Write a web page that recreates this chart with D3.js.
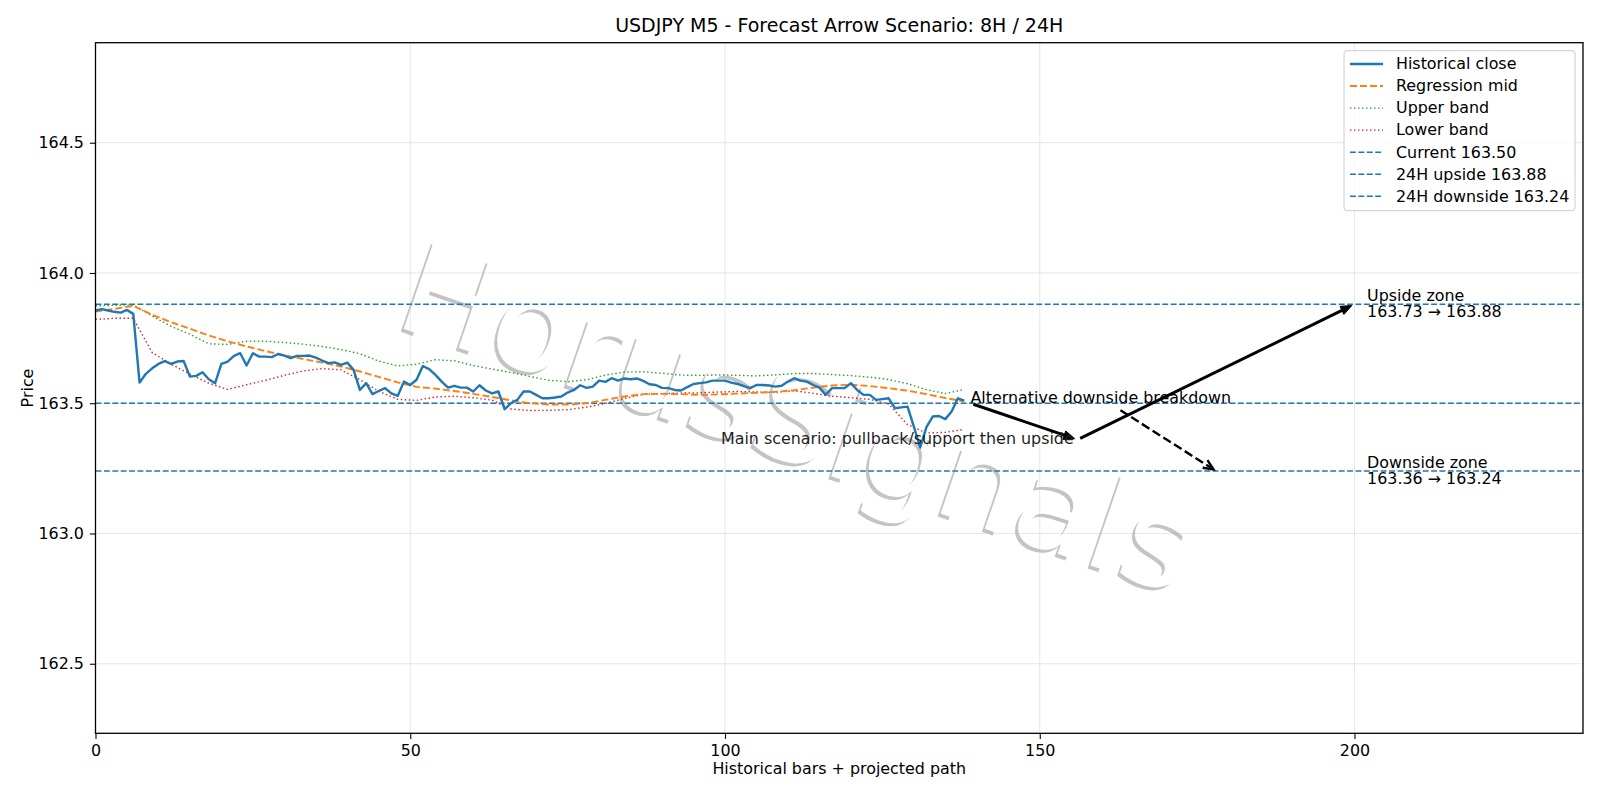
<!DOCTYPE html>
<html>
<head>
<meta charset="utf-8">
<script src="https://cdn.jsdelivr.net/npm/d3@7"></script>
<style>
  body { margin: 0; background: #fff; }
  text { font-family: "DejaVu Sans", sans-serif; }
</style>
</head>
<body>
<svg id="chart" width="1600" height="800"></svg>
<script>
// ---- data ----
const histClose = [
  163.856, 163.861, 163.856, 163.851, 163.848, 163.858, 163.843, 163.579, 163.613, 163.634,
  163.651, 163.662, 163.651, 163.660, 163.662, 163.602, 163.605, 163.619, 163.592, 163.577,
  163.651, 163.660, 163.682, 163.692, 163.645, 163.692, 163.679, 163.679, 163.677, 163.689,
  163.683, 163.673, 163.682, 163.682, 163.683, 163.675, 163.664, 163.654, 163.657, 163.647,
  163.656, 163.628, 163.551, 163.577, 163.535, 163.547, 163.558, 163.538, 163.528, 163.583,
  163.570, 163.590, 163.643, 163.631, 163.609, 163.583, 163.560, 163.567, 163.560, 163.560,
  163.545, 163.569, 163.549, 163.538, 163.545, 163.477, 163.500, 163.513, 163.545, 163.545,
  163.532, 163.519, 163.519, 163.522, 163.526, 163.541, 163.551, 163.569, 163.559, 163.564,
  163.587, 163.582, 163.596, 163.587, 163.595, 163.592, 163.595, 163.586, 163.573, 163.570,
  163.559, 163.558, 163.551, 163.549, 163.562, 163.574, 163.577, 163.580, 163.587, 163.587,
  163.587, 163.579, 163.574, 163.566, 163.558, 163.570, 163.570, 163.568, 163.564, 163.567,
  163.583, 163.596, 163.587, 163.583, 163.570, 163.560, 163.532, 163.558, 163.558, 163.558,
  163.577, 163.551, 163.532, 163.532, 163.513, 163.516, 163.519, 163.481, 163.484, 163.487,
  163.410, 163.330, 163.408, 163.449, 163.451, 163.439, 163.468, 163.519, 163.510
];

// bands and regression mid, read every 3 bars
const bandBars = [0, 3, 6, 9, 12, 15, 18, 21, 24, 27, 30, 33, 36, 39, 42, 45, 48, 51, 54, 57,
  60, 63, 66, 69, 72, 75, 78, 81, 84, 87, 90, 93, 96, 99, 102, 105, 108, 111, 114, 117,
  120, 123, 126, 129, 132, 135, 138];
const regMid = [163.852, 163.862, 163.874, 163.840, 163.811, 163.786, 163.760, 163.738, 163.718, 163.700,
  163.684, 163.670, 163.656, 163.641, 163.622, 163.601, 163.580, 163.563, 163.556, 163.547,
  163.536, 163.524, 163.511, 163.500, 163.495, 163.495, 163.500, 163.513, 163.526, 163.535,
  163.536, 163.535, 163.532, 163.534, 163.537, 163.540, 163.544, 163.550, 163.560, 163.568,
  163.571, 163.566, 163.558, 163.548, 163.535, 163.520, 163.507];
const upperBand = [163.874, 163.876, 163.877, 163.835, 163.795, 163.765, 163.728, 163.726, 163.738, 163.738,
  163.733, 163.727, 163.718, 163.706, 163.690, 163.662, 163.643, 163.650, 163.667, 163.663,
  163.645, 163.631, 163.618, 163.603, 163.588, 163.583, 163.590, 163.608, 163.620, 163.621,
  163.615, 163.608, 163.607, 163.609, 163.607, 163.605, 163.609, 163.614, 163.614, 163.610,
  163.606, 163.600, 163.591, 163.575, 163.552, 163.537, 163.553];
const lowerBand = [163.822, 163.826, 163.826, 163.695, 163.650, 163.612, 163.577, 163.553, 163.571, 163.588,
  163.607, 163.624, 163.633, 163.628, 163.590, 163.546, 163.515, 163.511, 163.524, 163.527,
  163.521, 163.512, 163.478, 163.472, 163.473, 163.475, 163.485, 163.499, 163.518, 163.534,
  163.537, 163.539, 163.540, 163.543, 163.545, 163.543, 163.542, 163.548, 163.538, 163.527,
  163.521, 163.515, 163.497, 163.418, 163.386, 163.388, 163.400];

// levels
const levelNames = ['Current 163.50', '24H upside 163.88', '24H downside 163.24'];
const levelValues = [163.50, 163.88, 163.24];

// projected main path and alternative
const pathBars = [139, 156, 200];
const pathPrices = [163.50, 163.36, 163.88];
const altFrom = [139, 163.50];
const altTo = [178, 163.24];
const mainTextAt = [155.4, 163.343];

const zoneLabels = [['Upside zone', '163.73 \u2192 163.88'], ['Downside zone', '163.36 \u2192 163.24']];
const zoneBars = [202, 202];
const zonePrices = [163.88, 163.24];

const xTicks = [0, 50, 100, 150, 200];
const yTicks = [162.5, 163.0, 163.5, 164.0, 164.5];

// ---- layout ----
const W = 1600, H = 800;
const margin = { top: 42.7, right: 17, bottom: 66.7, left: 95.5 };
const FS = 15.9;
const C = { blue: '#1f77b4', orange: '#ff7f0e', green: '#2ca02c', red: '#d62728' };

const svg = d3.select('#chart');
const x = d3.scaleLinear().domain([0, 236.3]).range([margin.left, W - margin.right]);
const y = d3.scaleLinear().domain([162.233, 164.884]).range([H - margin.bottom, margin.top]);

svg.append('defs').append('clipPath').attr('id', 'plot')
  .append('rect')
  .attr('x', margin.left).attr('y', margin.top)
  .attr('width', W - margin.left - margin.right)
  .attr('height', H - margin.top - margin.bottom);

// watermark (white text with a grey drop shadow), under everything
const wmX = 798, wmY = 418, wmAngle = 19;
svg.append('text')
  .attr('transform', `translate(${wmX - 3},${wmY + 3}) rotate(${wmAngle})`)
  .attr('text-anchor', 'middle').attr('dominant-baseline', 'central')
  .attr('font-size', 127).attr('fill', '#c4c4c4')
  .text('HorusSignals');
svg.append('text')
  .attr('transform', `translate(${wmX},${wmY}) rotate(${wmAngle})`)
  .attr('text-anchor', 'middle').attr('dominant-baseline', 'central')
  .attr('font-size', 127).attr('fill', '#fff')
  .text('HorusSignals');

// grid
const grid = svg.append('g').attr('stroke', '#b0b0b0').attr('stroke-opacity', 0.3).attr('stroke-width', 1);
xTicks.forEach(t => grid.append('line')
  .attr('x1', x(t)).attr('x2', x(t)).attr('y1', margin.top).attr('y2', H - margin.bottom));
yTicks.forEach(t => grid.append('line')
  .attr('y1', y(t)).attr('y2', y(t)).attr('x1', margin.left).attr('x2', W - margin.right));

const plot = svg.append('g').attr('clip-path', 'url(#plot)');

// horizontal levels
levelValues.forEach(v => plot.append('line')
  .attr('x1', margin.left).attr('x2', W - margin.right)
  .attr('y1', y(v)).attr('y2', y(v))
  .attr('stroke', C.blue).attr('stroke-width', 1.6).attr('stroke-dasharray', '5.9,2.5'));

const bandLine = vals => d3.line().x((d, i) => x(bandBars[i])).y(d => y(d))(vals);

plot.append('path').attr('d', bandLine(upperBand))
  .attr('fill', 'none').attr('stroke', C.green).attr('stroke-width', 1.4).attr('stroke-dasharray', '1.5,2.5');
plot.append('path').attr('d', bandLine(lowerBand))
  .attr('fill', 'none').attr('stroke', C.red).attr('stroke-width', 1.4).attr('stroke-dasharray', '1.5,2.5');
plot.append('path').attr('d', bandLine(regMid))
  .attr('fill', 'none').attr('stroke', C.orange).attr('stroke-width', 1.9).attr('stroke-dasharray', '7,3');

plot.append('path')
  .attr('d', d3.line().x((d, i) => x(i)).y(d => y(d))(histClose))
  .attr('fill', 'none').attr('stroke', C.blue).attr('stroke-width', 2.4).attr('stroke-linejoin', 'round');

// arrows
function arrow(g, p0, p1, opt) {
  const dx = p1[0] - p0[0], dy = p1[1] - p0[1];
  const len = Math.hypot(dx, dy), ux = dx / len, uy = dy / len;
  const s0 = opt.shrinkA || 0, s1 = 3;
  const a = [p0[0] + ux * s0, p0[1] + uy * s0];
  const b = [p1[0] - ux * s1, p1[1] - uy * s1];
  const hl = opt.headLen, hw = opt.headWidth;
  const base = [b[0] - ux * hl, b[1] - uy * hl];
  const l = [base[0] - uy * hw / 2, base[1] + ux * hw / 2];
  const r = [base[0] + uy * hw / 2, base[1] - ux * hw / 2];
  if (opt.filled) {
    g.append('line').attr('x1', a[0]).attr('y1', a[1]).attr('x2', base[0]).attr('y2', base[1])
      .attr('stroke', '#000').attr('stroke-width', opt.width);
    g.append('path').attr('d', `M${b}L${l}L${r}Z`).attr('fill', '#000')
      .attr('stroke', '#000').attr('stroke-width', 1).attr('stroke-linejoin', 'miter');
  } else {
    g.append('line').attr('x1', a[0]).attr('y1', a[1]).attr('x2', b[0]).attr('y2', b[1])
      .attr('stroke', '#000').attr('stroke-width', opt.width)
      .attr('stroke-dasharray', opt.dash || null);
    g.append('path').attr('d', `M${l}L${b}L${r}`).attr('fill', 'none')
      .attr('stroke', '#000').attr('stroke-width', opt.width);
  }
}

const ann = svg.append('g');
for (let k = 0; k < pathBars.length - 1; k++) {
  arrow(ann, [x(pathBars[k]), y(pathPrices[k])], [x(pathBars[k + 1]), y(pathPrices[k + 1])],
    { width: 3, headLen: 11, headWidth: 9, filled: true, shrinkA: 3 });
}

const altText = ann.append('text')
  .attr('x', x(altFrom[0])).attr('y', y(altFrom[1]))
  .attr('font-size', FS).attr('fill', '#000')
  .text('Alternative downside breakdown');
const bb = altText.node().getBBox();
{
  const cx = bb.x + bb.width / 2, cy = bb.y + bb.height / 2;
  const tx = x(altTo[0]), ty = y(altTo[1]);
  const t = (bb.height / 2 + 3) / (ty - cy);
  arrow(ann, [cx + (tx - cx) * t, cy + (ty - cy) * t], [tx, ty],
    { width: 2.4, headLen: 10, headWidth: 9, filled: false, dash: '8.9,3.8' });
}

ann.append('text')
  .attr('x', x(mainTextAt[0])).attr('y', y(mainTextAt[1]))
  .attr('text-anchor', 'end').attr('font-size', FS).attr('fill', '#1e1e1e')
  .text('Main scenario: pullback/support then upside');

zoneLabels.forEach((lines, i) => {
  const t = ann.append('text').attr('font-size', FS).attr('fill', '#000');
  lines.forEach((s, j) => t.append('tspan')
    .attr('x', x(zoneBars[i])).attr('y', y(zonePrices[i]) - 3.2 + j * 16.3).text(s));
});

// axes
const xAxis = svg.append('g').attr('transform', `translate(0,${H - margin.bottom})`)
  .call(d3.axisBottom(x).tickValues(xTicks).tickSize(5.6).tickPadding(6).tickSizeOuter(0));
const yAxis = svg.append('g').attr('transform', `translate(${margin.left},0)`)
  .call(d3.axisLeft(y).tickValues(yTicks).tickFormat(d3.format('.1f')).tickSize(5.6).tickPadding(6).tickSizeOuter(0));
[xAxis, yAxis].forEach(a => {
  a.select('.domain').remove();
  a.selectAll('text').attr('font-size', FS).attr('fill', '#000').attr('font-family', '"DejaVu Sans", sans-serif');
  a.selectAll('line').attr('stroke', '#000').attr('stroke-width', 1.1);
});

svg.append('rect')
  .attr('x', margin.left).attr('y', margin.top)
  .attr('width', W - margin.left - margin.right)
  .attr('height', H - margin.top - margin.bottom)
  .attr('fill', 'none').attr('stroke', '#000').attr('stroke-width', 1.3);

// labels
svg.append('text').attr('x', (margin.left + W - margin.right) / 2).attr('y', 32)
  .attr('text-anchor', 'middle').attr('font-size', 19)
  .text('USDJPY M5 - Forecast Arrow Scenario: 8H / 24H');
svg.append('text').attr('x', (margin.left + W - margin.right) / 2).attr('y', 774)
  .attr('text-anchor', 'middle').attr('font-size', FS)
  .text('Historical bars + projected path');
svg.append('text').attr('transform', `translate(32.5,${(margin.top + H - margin.bottom) / 2}) rotate(-90)`)
  .attr('text-anchor', 'middle').attr('font-size', FS)
  .text('Price');

// legend
const legendItems = [
  { label: 'Historical close', color: C.blue, w: 2.4, dash: null },
  { label: 'Regression mid', color: C.orange, w: 1.9, dash: '7,3' },
  { label: 'Upper band', color: C.green, w: 1.4, dash: '1.5,2.5' },
  { label: 'Lower band', color: C.red, w: 1.4, dash: '1.5,2.5' },
  ...levelNames.map(n => ({ label: n, color: C.blue, w: 1.6, dash: '5.9,2.5' }))
];
const lg = svg.append('g');
lg.append('rect').attr('x', 1344).attr('y', 50.7).attr('width', 231).attr('height', 160)
  .attr('rx', 3).attr('fill', '#fff').attr('fill-opacity', 0.8).attr('stroke', '#ccc');
legendItems.forEach((d, i) => {
  const by = 69.3 + i * 22.05;
  lg.append('line').attr('x1', 1350).attr('x2', 1383).attr('y1', by - 5.3).attr('y2', by - 5.3)
    .attr('stroke', d.color).attr('stroke-width', d.w).attr('stroke-dasharray', d.dash);
  lg.append('text').attr('x', 1396).attr('y', by).attr('font-size', FS).text(d.label);
});
</script>
</body>
</html>
